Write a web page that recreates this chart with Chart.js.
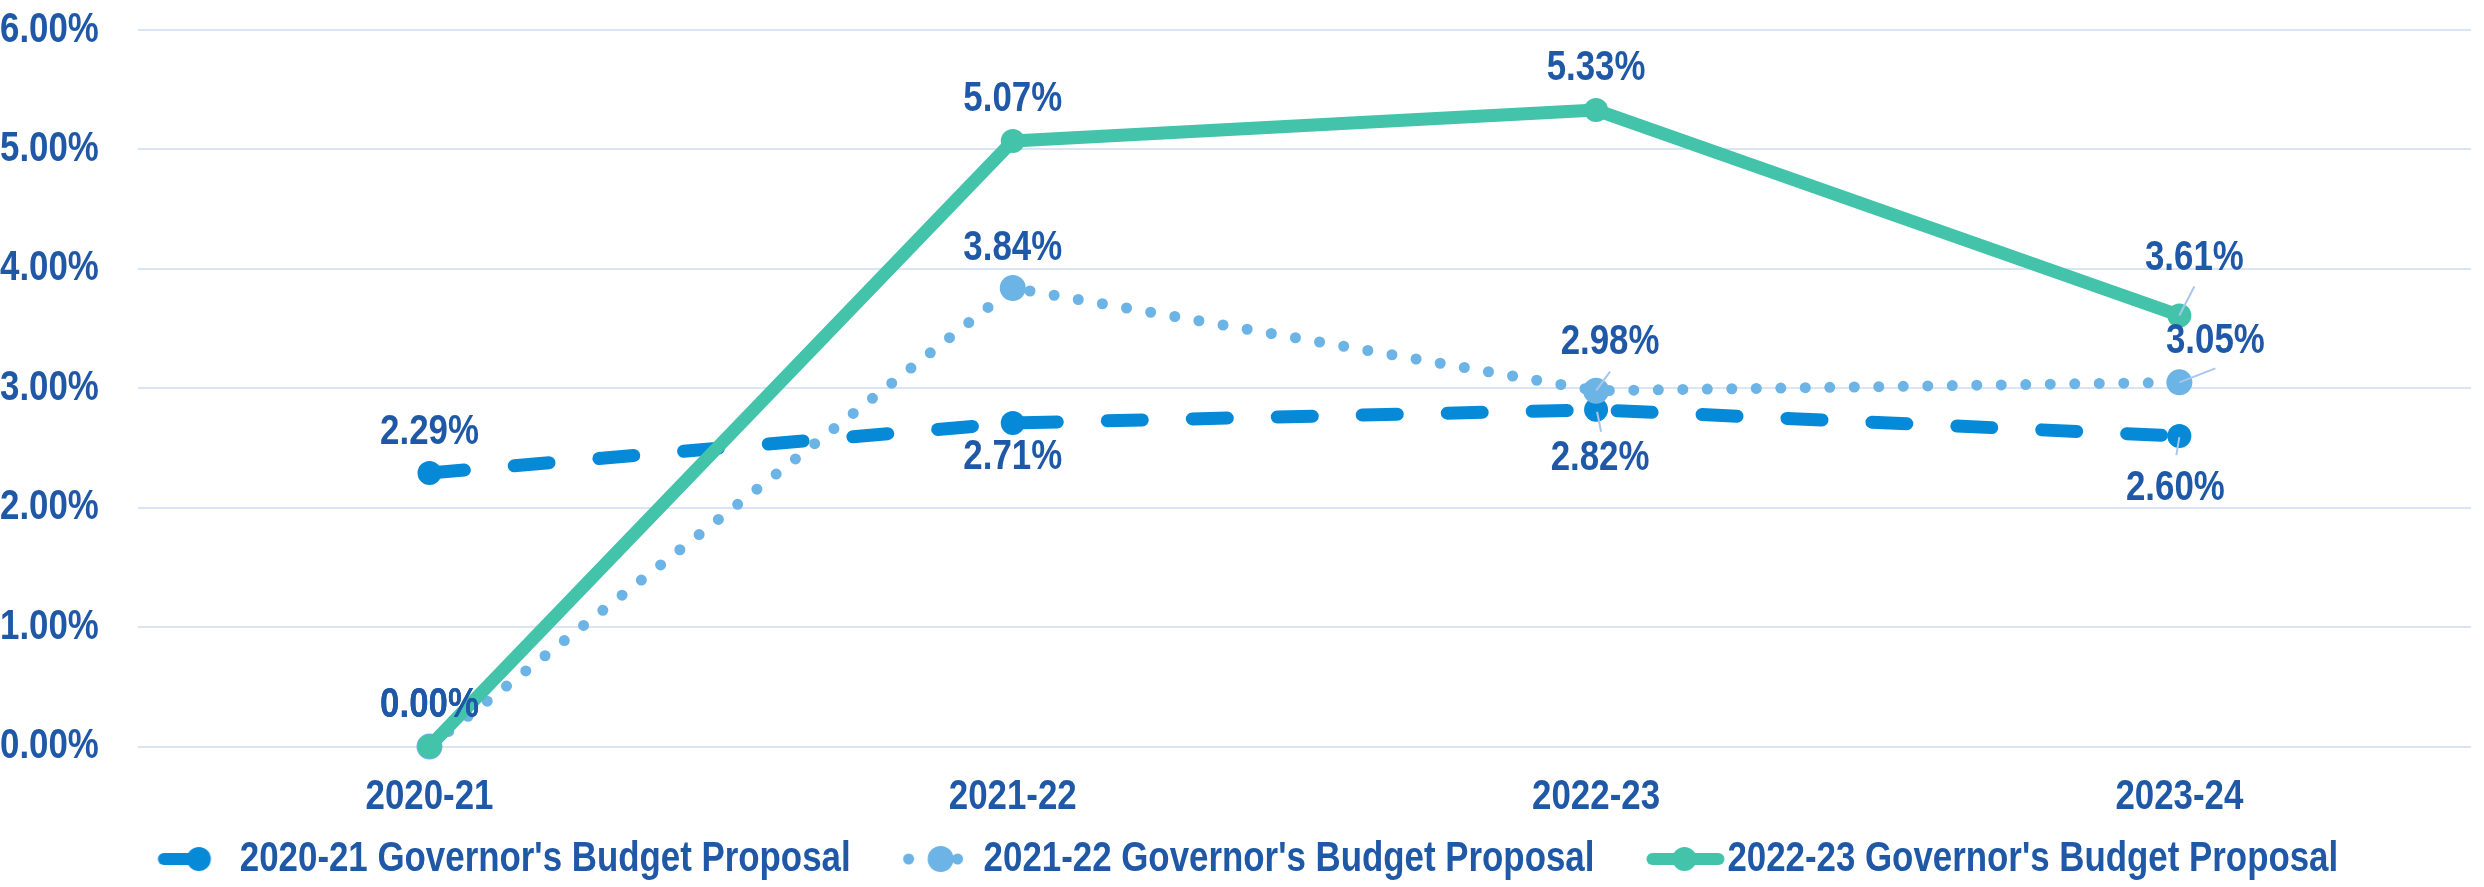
<!DOCTYPE html>
<html>
<head>
<meta charset="utf-8">
<script src="https://cdn.jsdelivr.net/npm/chart.js@4.4.1/dist/chart.umd.min.js"></script>
<style>
html, body { margin: 0; padding: 0; background: #ffffff; }
#wrap { width: 2484px; height: 887px; }
</style>
</head>
<body>
<div id="wrap"><canvas id="c" width="2484" height="887"></canvas></div>
<script>
// ---- data ----
const categories = ['2020-21', '2021-22', '2022-23', '2023-24'];
const seriesNames = [
  "2020-21 Governor's Budget Proposal",
  "2021-22 Governor's Budget Proposal",
  "2022-23 Governor's Budget Proposal"
];
const gbp2020 = [2.29, 2.71, 2.82, 2.60];
const gbp2021 = [0.00, 3.84, 2.98, 3.05];
const gbp2022 = [0.00, 5.07, 5.33, 3.61];
const yTickValues = [0, 1, 2, 3, 4, 5, 6];

// ---- styles ----
const FONT = '"Liberation Sans", Arial, sans-serif';
const SX = 0.83; // narrow (condensed) rendering of the bold face
const TEXT = '#1F58A6';
const GRID = '#D9E5F5';
const LEADER = '#A9C6EC';
const C1 = '#068AD7';
const C2 = '#6CB3E6';
const C3 = '#42C3AA';

// label offsets (dx, dy) relative to each point, per series
const labelOffsets = [
  [[0, -41], [0, 34], [4, 49], [-4, 52]],
  [[0, -41], [0, -40], [14, -48], [36, -41]],
  [[0, -41], [0, -42], [0, -42], [15, -57]]
];
// leader lines: [[x1,y1],[x2,y2]] relative to the point
const leaders = [
  [null, null, [[1, 2], [5, 22]], [[0, 1], [-3, 19]]],
  [null, null, [[14, -19], [0, 0]], [[36, -14], [0, 0]]],
  [null, null, null, [[15, -29], [0, 0]]]
];

const LEG_BOX_W = 97;
const LEG_PAD = 15;
const LEGEND_SHIFT = 10;

// condensed text rendering on the chart canvas
const canvas = document.getElementById('c');
const ctx0 = canvas.getContext('2d');
const origFill = ctx0.fillText.bind(ctx0);
const origMeasure = ctx0.measureText.bind(ctx0);
ctx0.fillText = function (text, x, y, maxWidth) {
  this.save();
  this.translate(x, y);
  this.scale(SX, 1);
  if (maxWidth === undefined || maxWidth === null) origFill(text, 0, 0);
  else origFill(text, 0, 0, maxWidth / SX);
  this.restore();
};
ctx0.measureText = function (text) {
  const m = origMeasure(text);
  return {
    width: m.width * SX,
    actualBoundingBoxLeft: m.actualBoundingBoxLeft * SX,
    actualBoundingBoxRight: m.actualBoundingBoxRight * SX,
    actualBoundingBoxAscent: m.actualBoundingBoxAscent,
    actualBoundingBoxDescent: m.actualBoundingBoxDescent,
    fontBoundingBoxAscent: m.fontBoundingBoxAscent,
    fontBoundingBoxDescent: m.fontBoundingBoxDescent
  };
};

function markerCanvas(idx) {
  const cw = 200, ch = 40;
  const cv = document.createElement('canvas');
  cv.width = cw; cv.height = ch;
  const g = cv.getContext('2d');
  const base = 21 + LEG_BOX_W / 2 + cw / 2; // canvas x of the text start
  const X = rel => base + rel;
  const cy = ch / 2;
  g.lineCap = 'round';
  if (idx === 0) {
    g.strokeStyle = C1; g.fillStyle = C1; g.lineWidth = 12;
    g.beginPath(); g.moveTo(X(-76), cy); g.lineTo(X(-41), cy); g.stroke();
    g.beginPath(); g.arc(X(-41), cy, 12, 0, Math.PI * 2); g.fill();
  } else if (idx === 1) {
    g.fillStyle = C2;
    g.beginPath(); g.arc(X(-75), cy, 5.5, 0, Math.PI * 2); g.fill();
    g.beginPath(); g.arc(X(-43), cy, 13, 0, Math.PI * 2); g.fill();
    g.beginPath(); g.arc(X(-26), cy, 5.5, 0, Math.PI * 2); g.fill();
  } else {
    g.strokeStyle = C3; g.fillStyle = C3; g.lineWidth = 12;
    g.beginPath(); g.moveTo(X(-75), cy); g.lineTo(X(-9), cy); g.stroke();
    g.beginPath(); g.arc(X(-43), cy, 12, 0, Math.PI * 2); g.fill();
  }
  return cv;
}

const valueLabels = {
  id: 'valueLabels',
  afterDatasetsDraw(chart) {
    const ctx = chart.ctx;
    ctx.save();
    ctx.font = 'bold 42px ' + FONT;
    ctx.textAlign = 'center';
    ctx.textBaseline = 'middle';
    chart.data.datasets.forEach((ds, i) => {
      const meta = chart.getDatasetMeta(i);
      meta.data.forEach((el, j) => {
        const lead = leaders[i][j];
        if (lead) {
          ctx.strokeStyle = LEADER;
          ctx.lineWidth = 2;
          ctx.beginPath();
          ctx.moveTo(el.x + lead[0][0], el.y + lead[0][1]);
          ctx.lineTo(el.x + lead[1][0], el.y + lead[1][1]);
          ctx.stroke();
        }
      });
    });
    chart.data.datasets.forEach((ds, i) => {
      const meta = chart.getDatasetMeta(i);
      meta.data.forEach((el, j) => {
        const off = labelOffsets[i][j];
        ctx.fillStyle = TEXT;
        ctx.fillText(ds.data[j].toFixed(2) + '%', el.x + off[0], el.y + off[1]);
      });
    });
    ctx.restore();
  }
};

const legendShift = {
  id: 'legendShift',
  afterLayout(chart) {
    const l = chart.legend;
    if (l) { l.left -= LEGEND_SHIFT; l.right -= LEGEND_SHIFT; }
  }
};

const tickFont = { family: FONT, size: 42, weight: 'bold' };

new Chart(canvas, {
  type: 'line',
  data: {
    labels: categories,
    datasets: [
      {
        label: seriesNames[0], data: gbp2020, order: 3, clip: false,
        borderColor: C1, borderWidth: 13, borderDash: [35, 50], borderCapStyle: 'round',
        pointRadius: 12, pointBackgroundColor: C1, pointBorderWidth: 0, tension: 0
      },
      {
        label: seriesNames[1], data: gbp2021, order: 2, clip: false,
        borderColor: C2, borderWidth: 11, borderDash: [0, 24.5], borderCapStyle: 'round',
        pointRadius: 13, pointBackgroundColor: C2, pointBorderWidth: 0, tension: 0
      },
      {
        label: seriesNames[2], data: gbp2022, order: 1, clip: false,
        borderColor: C3, borderWidth: 13, borderJoinStyle: 'round',
        pointRadius: 12, pointBackgroundColor: C3, pointBorderWidth: 0, tension: 0
      }
    ]
  },
  options: {
    responsive: false,
    animation: false,
    devicePixelRatio: 1,
    events: [],
    layout: { padding: { top: 30, right: 4, bottom: -3, left: 0 } },
    scales: {
      x: {
        type: 'category',
        offset: true,
        afterFit: s => { s.height -= s.options.ticks.padding; },
        grid: { display: false, drawTicks: false },
        border: { display: false },
        ticks: { font: tickFont, color: TEXT, padding: 26, maxRotation: 0 }
      },
      y: {
        min: 0, max: 6,
        afterBuildTicks: s => { s.ticks = yTickValues.map(v => ({ value: v })); },
        afterFit: s => { s.paddingTop = 0; s.paddingBottom = 0; s.width -= s.options.ticks.padding; },
        grid: { color: GRID, lineWidth: 2, drawTicks: false },
        border: { display: false },
        ticks: { font: tickFont, color: TEXT, padding: 39, callback: v => Number(v).toFixed(2) + '%' }
      }
    },
    plugins: {
      tooltip: { enabled: false },
      legend: {
        position: 'bottom',
        labels: {
          font: tickFont,
          color: TEXT,
          usePointStyle: true,
          pointStyleWidth: LEG_BOX_W,
          padding: LEG_PAD,
          sort: (a, b) => a.datasetIndex - b.datasetIndex,
          generateLabels(chart) {
            const items = Chart.defaults.plugins.legend.labels.generateLabels(chart);
            items.forEach(it => { it.pointStyle = markerCanvas(it.datasetIndex); });
            return items;
          }
        }
      }
    }
  },
  plugins: [valueLabels, legendShift]
});
</script>
</body>
</html>
